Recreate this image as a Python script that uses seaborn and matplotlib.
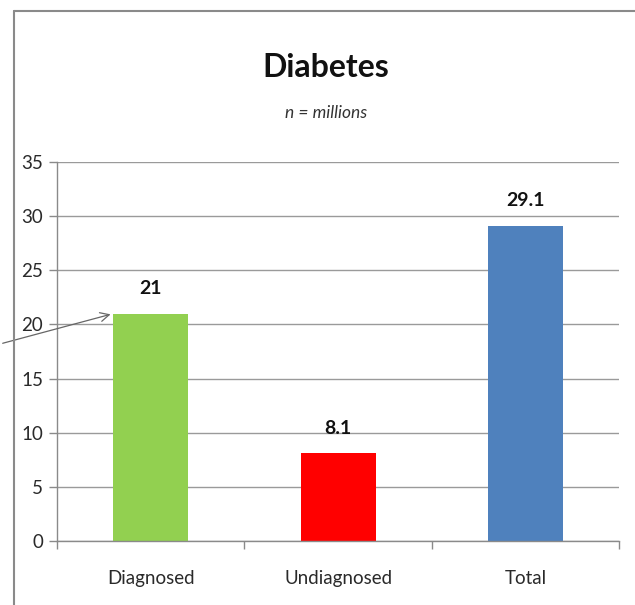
import matplotlib
matplotlib.use("Agg")
import matplotlib.pyplot as plt
import seaborn as sns
import pandas as pd
from matplotlib.lines import Line2D

categories = ["Diagnosed", "Undiagnosed", "Total"]
values = [21, 8.1, 29.1]
value_labels = ["21", "8.1", "29.1"]
bar_colors = ["#92D050", "#FF0000", "#4F81BD"]
y_ticks = [0, 5, 10, 15, 20, 25, 30, 35]

sns.set_theme(style="white")
plt.rcParams["font.family"] = ["Lato", "DejaVu Sans"]

df = pd.DataFrame({"category": categories, "value": values})

fig = plt.figure(figsize=(6.35, 6.05), dpi=100)
ax = fig.add_axes([0.0898, 0.1058, 0.8852, 0.6264])

sns.barplot(data=df, x="category", y="value", hue="category",
            palette=bar_colors, width=0.4, legend=False, ax=ax,
            saturation=1, edgecolor="none")

ax.set_ylim(0, 35)
ax.set_xlim(-0.5, 2.5)
ax.set_yticks(y_ticks)
ax.set_yticklabels([str(t) for t in y_ticks], fontsize=13.5, color="#2a2a2a")
ax.yaxis.grid(True, color="#9a9a9a", linewidth=1)
ax.set_axisbelow(True)

ax.tick_params(axis="y", which="major", left=True, length=6, width=1,
               color="#8a8a8a", pad=4)
ax.tick_params(axis="x", which="major", length=0, pad=21, labelsize=13.5,
               labelcolor="#2a2a2a")
ax.set_xticks([-0.5, 0.5, 1.5, 2.5], minor=True)
ax.tick_params(axis="x", which="minor", bottom=True, length=6, width=1,
               color="#8a8a8a")
ax.set_xlabel("")
ax.set_ylabel("")

for s in ["top", "right"]:
    ax.spines[s].set_visible(False)
for s in ["left", "bottom"]:
    ax.spines[s].set_color("#8a8a8a")
    ax.spines[s].set_linewidth(1)

for i, (v, lab) in enumerate(zip(values, value_labels)):
    ax.annotate(lab, (i, v), xytext=(0, 12), textcoords="offset points",
                ha="center", va="bottom", fontsize=14, fontweight="bold",
                color="#111111")

fig.text(0.513, 0.889, "Diabetes", ha="center", va="center",
         fontsize=23, fontweight="bold", color="#111111")
fig.text(0.513, 0.814, "n = millions", ha="center", va="center",
         fontsize=12.5, style="italic", color="#333333")

# callout arrow pointing to the Diagnosed bar
ax.annotate("", xy=(-0.2, 21), xycoords="data",
            xytext=(0.0, 1 - 344 / 605), textcoords="figure fraction",
            arrowprops=dict(arrowstyle="->", color="#666666", lw=0.9,
                            mutation_scale=16),
            annotation_clip=False)

# outer chart frame
fig.add_artist(Line2D([14 / 635, 14 / 635], [1 - 11 / 605, 0],
                      transform=fig.transFigure, color="#8a8a8a", lw=1.5))
fig.add_artist(Line2D([14 / 635, 1], [1 - 11 / 605, 1 - 11 / 605],
                      transform=fig.transFigure, color="#8a8a8a", lw=1.5))

fig.savefig("out.png", dpi=100, facecolor="white")
